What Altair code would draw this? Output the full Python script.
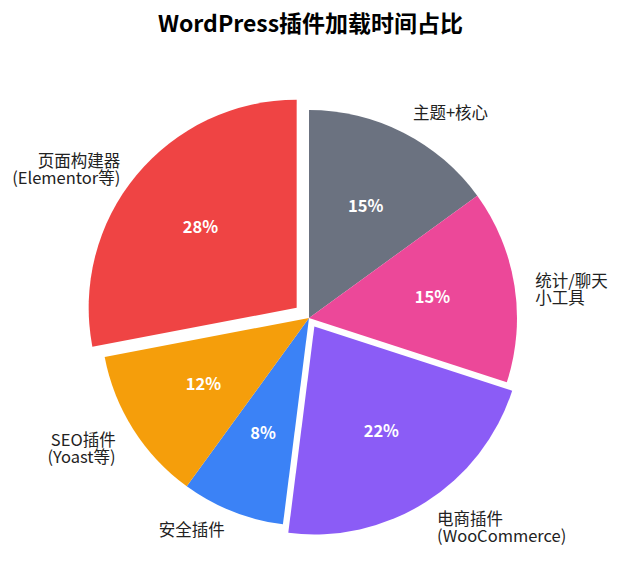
import altair as alt
import pandas as pd

labels = ["主题+核心", "统计/聊天\n小工具", "电商插件\n(WooCommerce)", "安全插件",
          "SEO插件\n(Yoast等)", "页面构建器\n(Elementor等)"]
values = [15, 15, 22, 8, 12, 28]
colors = ["#6b7280", "#ec4899", "#8b5cf6", "#3b82f6", "#f59e0b", "#ef4444"]
explode = [0, 0, 10, 0, 0, 16]
order = [0, 1, 2, 3, 4, 5]

df = pd.DataFrame({"label": labels, "value": values, "color": colors,
                   "explode": explode, "order": order})

FONT = "Noto Sans CJK SC"
CX, CY, R = 301, 269, 208
R_IN, R_OUT = 125, 229

base = (
    alt.Chart(df)
    .transform_joinaggregate(total="sum(value)")
    .transform_window(cum="sum(value)", sort=[alt.SortField("order")], frame=[None, 0])
    .transform_calculate(a0="2*PI*(datum.cum-datum.value)/datum.total")
    .transform_calculate(a1="2*PI*datum.cum/datum.total")
    .transform_calculate(mid="(datum.a0+datum.a1)/2")
    .transform_calculate(cx=f"{CX}+datum.explode*sin(datum.mid)")
    .transform_calculate(cy=f"{CY}-datum.explode*cos(datum.mid)")
    .transform_calculate(ix=f"datum.cx+{R_IN}*sin(datum.mid)")
    .transform_calculate(iy=f"datum.cy-{R_IN}*cos(datum.mid)")
    .transform_calculate(ox=f"datum.cx+{R_OUT}*sin(datum.mid)")
    .transform_calculate(oy=f"datum.cy-{R_OUT}*cos(datum.mid)")
    .transform_calculate(pct="format(datum.value/datum.total,'.0%')")
)

arcs = base.mark_arc(outerRadius=R).encode(
    x=alt.X("cx:Q", scale=None, axis=None),
    y=alt.Y("cy:Q", scale=None, axis=None),
    theta=alt.Theta("a0:Q", scale=None),
    theta2="a1:Q",
    color=alt.Color("color:N", scale=None),
)

pcts = base.mark_text(font=FONT, fontSize=16.5, fontWeight="bold", color="white",
                      align="center", baseline="middle").encode(
    x=alt.X("ix:Q", scale=None, axis=None),
    y=alt.Y("iy:Q", scale=None, axis=None),
    text="pct:N",
)

right_lbl = base.transform_filter("sin(datum.mid) >= 0").mark_text(
    font=FONT, fontSize=16.5, color="#222222", align="left", baseline="middle",
    lineBreak="\n", lineHeight=17).encode(
    x=alt.X("ox:Q", scale=None, axis=None),
    y=alt.Y("oy:Q", scale=None, axis=None),
    text="label:N",
)

left_lbl = base.transform_filter("sin(datum.mid) < 0").mark_text(
    font=FONT, fontSize=16.5, color="#222222", align="right", baseline="middle",
    lineBreak="\n", lineHeight=17).encode(
    x=alt.X("ox:Q", scale=None, axis=None),
    y=alt.Y("oy:Q", scale=None, axis=None),
    text="label:N",
)

chart = (
    alt.layer(arcs, pcts, right_lbl, left_lbl)
    .properties(
        width=605, height=500,
        padding={"top": 6, "left": 0, "right": 0, "bottom": 0},
        title=alt.Title("WordPress插件加载时间占比", font=FONT, fontSize=23,
                        fontWeight="bold", color="#000000", anchor="middle", offset=12),
    )
    .configure_view(stroke=None)
)

chart.save("out.html", embed_options={"renderer": "svg", "actions": False})
